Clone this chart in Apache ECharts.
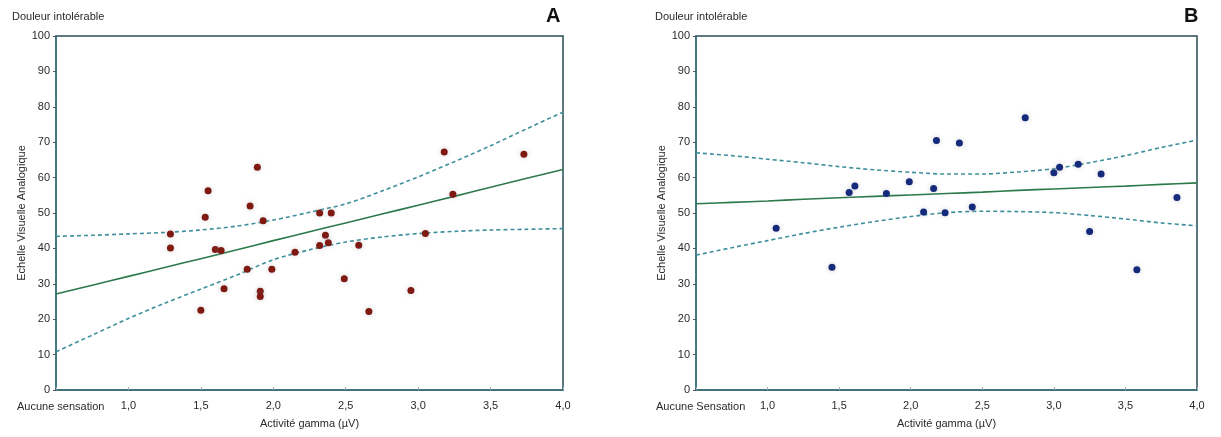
<!DOCTYPE html>
<html>
<head>
<meta charset="utf-8">
<script src="https://cdn.jsdelivr.net/npm/echarts@6/dist/echarts.min.js"></script>
<style>
html,body{margin:0;padding:0;background:#fff;}
#chart{width:1221px;height:437px;}
</style>
</head>
<body>
<div id="chart"></div>
<script>
// ---- Data ----
const xTickLabels = ['1,0','1,5','2,0','2,5','3,0','3,5','4,0'];

// Panel A: gamma activity (µV) vs VAS
const aX = [1.89,1.55,1.84,1.53,1.93,1.29,1.29,1.60,1.64,2.15,1.82,1.99,1.66,1.91,1.91,1.50,
            3.18,3.73,3.24,2.32,2.40,2.36,2.32,2.38,2.59,3.05,2.49,2.95,2.66];
const aY = [62.9,56.3,52.0,48.8,47.8,44.1,40.1,39.7,39.4,38.9,34.1,34.1,28.6,27.9,26.4,22.5,
            67.2,66.6,55.3,50.0,50.0,43.7,40.8,41.6,40.9,44.2,31.4,28.1,22.2];

// Panel B
const bX = [2.18,1.57,1.61,1.83,1.99,2.16,2.09,2.24,1.06,1.45,
            2.80,2.34,3.00,3.04,3.17,3.33,3.86,2.43,3.25,3.58];
const bY = [70.5,55.8,57.6,55.5,58.8,56.9,50.3,50.1,45.7,34.7,
            76.9,69.8,61.4,62.9,63.8,61.0,54.4,51.7,44.8,34.0];

// Fit lines and confidence bands, sampled at these x positions
const bandX = [0.5,0.75,1.0,1.25,1.5,1.75,2.0,2.25,2.5,2.75,3.0,3.25,3.5,3.75,4.0];
const aFit   = [27.1,29.6,32.1,34.6,37.1,39.6,42.2,44.7,47.2,49.7,52.2,54.7,57.3,59.8,62.3];
const aUpper = [43.4,43.7,44.1,44.5,45.2,46.3,48.0,50.2,52.6,56.2,60.2,64.5,69.0,73.8,78.5];
const aLower = [10.8,15.5,20.2,24.5,28.5,32.5,36.8,39.6,41.8,43.2,44.2,44.8,45.2,45.4,45.6];
const bFit   = [52.6,53.0,53.4,53.9,54.3,54.7,55.1,55.5,55.9,56.4,56.8,57.2,57.6,58.1,58.5];
const bUpper = [67.0,66.2,65.2,64.2,63.1,62.2,61.5,61.0,61.0,61.6,62.5,64.2,66.2,68.5,70.6];
const bLower = [38.1,40.2,42.2,44.2,46.0,47.6,49.0,50.1,50.5,50.4,50.1,49.3,48.3,47.2,46.4];

// ---- Build ----
const pairs = (xs, ys) => xs.map((x, i) => [x, ys[i]]);
const FONT = 'Liberation Sans, Arial, sans-serif';
const TXT = '#2a2a2a';
const FRAME = '#2a4f57';

function xAxisCfg(gi) {
  return {
    gridIndex: gi, type: 'value', min: 0.5, max: 4.0, interval: 0.5,
    name: 'Activité gamma (µV)', nameLocation: 'middle', nameGap: 28,
    nameTextStyle: { fontFamily: FONT, fontSize: 11, color: TXT },
    axisLine: { show: true, lineStyle: { color: '#3b6f78', width: 1.5 } },
    axisTick: { show: true, inside: true, length: 3, lineStyle: { color: '#9ab' } },
    axisLabel: {
      fontFamily: FONT, fontSize: 11, color: TXT, margin: 10,
      formatter: v => { const i = Math.round((v - 1.0) / 0.5); return i >= 0 ? xTickLabels[i] : ''; }
    },
    splitLine: { show: false }
  };
}
function yAxisCfg(gi) {
  return {
    gridIndex: gi, type: 'value', min: 0, max: 100, interval: 10,
    name: 'Echelle Visuelle Analogique', nameLocation: 'middle', nameGap: 23, nameRotate: 90,
    nameTextStyle: { fontFamily: FONT, fontSize: 11, color: TXT },
    axisLine: { show: true, lineStyle: { color: '#3b7a85', width: 1.5 } },
    axisTick: { show: true, length: 3, lineStyle: { color: '#556' } },
    axisLabel: { fontFamily: FONT, fontSize: 11, color: TXT, margin: 6 },
    splitLine: { show: false }
  };
}
function lineSeries(gi, ys, dashed) {
  return {
    type: 'line', xAxisIndex: gi, yAxisIndex: gi, data: pairs(bandX, ys),
    smooth: 0.3, showSymbol: false, silent: true, z: 2,
    lineStyle: dashed ? { color: '#3d8f9c', width: 1.6, type: [4, 3] }
                      : { color: '#2c7a4a', width: 1.6 }
  };
}
function scatter(gi, xs, ys, color) {
  return {
    type: 'scatter', xAxisIndex: gi, yAxisIndex: gi, data: pairs(xs, ys),
    symbolSize: 7, z: 3,
    itemStyle: { color: color, opacity: 1, shadowColor: 'rgba(150,150,160,0.45)', shadowBlur: 5 }
  };
}

const chart = echarts.init(document.getElementById('chart'), null, { renderer: 'canvas' });
chart.setOption({
  animation: false,
  backgroundColor: '#ffffff',
  grid: [
    { left: 56, top: 36, width: 507, height: 354, show: true, borderColor: FRAME, borderWidth: 1.5, backgroundColor: '#fff' },
    { left: 696, top: 36, width: 501, height: 354, show: true, borderColor: FRAME, borderWidth: 1.5, backgroundColor: '#fff' }
  ],
  xAxis: [xAxisCfg(0), xAxisCfg(1)],
  yAxis: [yAxisCfg(0), yAxisCfg(1)],
  series: [
    lineSeries(0, aUpper, true), lineSeries(0, aLower, true), lineSeries(0, aFit, false),
    scatter(0, aX, aY, '#7e1a12'),
    lineSeries(1, bUpper, true), lineSeries(1, bLower, true), lineSeries(1, bFit, false),
    scatter(1, bX, bY, '#162a7c')
  ],
  graphic: [
    { type: 'text', left: 12, top: 11, style: { text: 'Douleur intolérable', fontFamily: FONT, fontSize: 11, fill: TXT } },
    { type: 'text', left: 655, top: 11, style: { text: 'Douleur intolérable', fontFamily: FONT, fontSize: 11, fill: TXT } },
    { type: 'text', left: 546, top: 6, style: { text: 'A', fontFamily: FONT, fontSize: 20, fontWeight: 'bold', fill: '#111' } },
    { type: 'text', left: 1184, top: 6, style: { text: 'B', fontFamily: FONT, fontSize: 20, fontWeight: 'bold', fill: '#111' } },
    { type: 'text', left: 17, top: 401, style: { text: 'Aucune sensation', fontFamily: FONT, fontSize: 11, fill: TXT } },
    { type: 'text', left: 656, top: 401, style: { text: 'Aucune Sensation', fontFamily: FONT, fontSize: 11, fill: TXT } }
  ]
});
</script>
</body>
</html>
